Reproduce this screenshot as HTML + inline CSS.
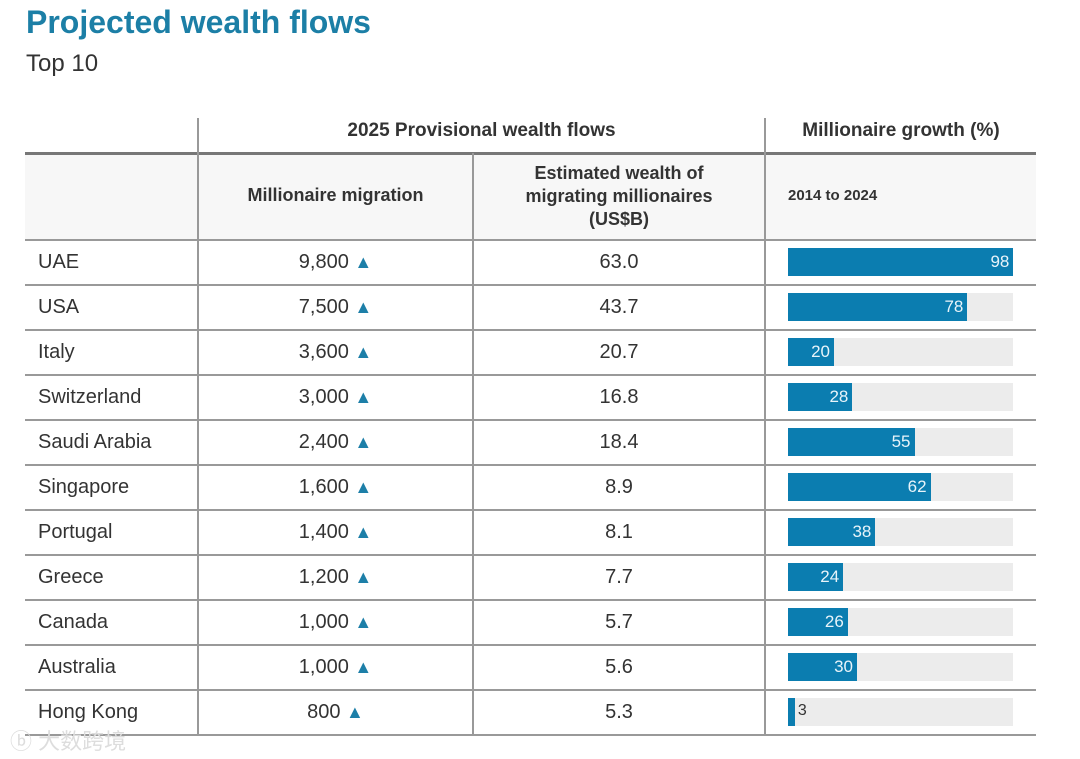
<!DOCTYPE html>
<html><head><meta charset="utf-8"><style>
body{margin:0;width:1080px;height:759px;background:#fff;font-family:"Liberation Sans","Noto Sans CJK SC",sans-serif;position:relative;overflow:hidden;color:#333}
.abs{position:absolute}
.t{left:26px;top:4px;font-size:32px;font-weight:bold;color:#1c7fa6}
.st{left:26px;top:50px;font-size:24px;color:#333}
.hl{background:#888;height:2px;left:25px;width:1011px}
.vl{background:#999;width:2px}
.c{text-align:center}
.hd{font-weight:bold;font-size:18px;color:#333}
.lbl{left:38px;font-size:20px;color:#333}
.num{font-size:20px;color:#333}
.tri{color:#1d7fa8;font-size:18px}
.bar{background:#0b7db0;color:#e8f4fa;font-size:17px;text-align:right;box-sizing:border-box;padding-right:4px;line-height:28px}
.trk{background:#ececec}
</style></head><body>
<div class="abs t">Projected wealth flows</div>
<div class="abs st">Top 10</div>
<div class="abs" style="left:25px;top:153px;width:1011px;height:86px;background:#f7f7f7"></div>
<div class="abs hd c" style="left:199px;width:565px;top:120px;font-size:19px">2025 Provisional wealth flows</div>
<div class="abs hd c" style="left:766px;width:270px;top:120px;font-size:19px">Millionaire growth (%)</div>
<div class="abs hd c" style="left:199px;width:273px;top:185px">Millionaire migration</div>
<div class="abs hd c" style="left:474px;width:290px;top:162px;line-height:23px">Estimated wealth of<br>migrating millionaires<br>(US$B)</div>
<div class="abs hd" style="left:788px;top:187px;font-size:15px">2014 to 2024</div>
<div id="tbl"></div>
<div class="abs" style="left:10px;top:724px;font-size:22px;color:#ddd">ⓑ 大数跨境</div>
<script>
const countries=["UAE","USA","Italy","Switzerland","Saudi Arabia","Singapore","Portugal","Greece","Canada","Australia","Hong Kong"];
const migration=["9,800","7,500","3,600","3,000","2,400","1,600","1,400","1,200","1,000","1,000","800"];
const wealth=["63.0","43.7","20.7","16.8","18.4","8.9","8.1","7.7","5.7","5.6","5.3"];
const growth=[98,78,20,28,55,62,38,24,26,30,3];
const T=document.getElementById('tbl');
const rowTop=239,rowH=45,barX=788,scale=2.3;
function mk(cls,style,html){const d=document.createElement('div');d.className='abs '+cls;d.setAttribute('style',style);if(html!==undefined)d.innerHTML=html;T.appendChild(d);return d;}
let e;
e=mk('hl','top:152px;height:3px;background:#777');


e=mk('vl','left:197px;top:118px;height:617px');


e=mk('vl','left:472px;top:153px;height:582px');


e=mk('vl','left:764px;top:118px;height:617px');


countries.forEach((c,i)=>{
  const y=rowTop+i*rowH;
  e=mk('hl','top:'+y+'px;background:#999');
  
  
  e=mk('lbl','top:'+(y+12)+'px',c);
  
  
  e=mk('num c','left:199px;width:273px;top:'+(y+12)+'px',migration[i]+' <span class="tri">▲</span>');
  
  
  e=mk('num c','left:474px;width:290px;top:'+(y+12)+'px',wealth[i]);
  
  
  e=mk('trk','left:'+barX+'px;top:'+(y+9)+'px;width:'+(100*scale-5)+'px;height:28px');
  
  
  const w=growth[i]*scale;
  if(growth[i]<10){
    e=mk('bar','left:'+barX+'px;top:'+(y+9)+'px;width:'+w+'px;height:28px;padding:0');
    
    
    e=mk('','left:'+(barX+w+3)+'px;top:'+(y+13)+'px;font-size:16px;color:#333',growth[i]);
    
    
  }else{
    e=mk('bar','left:'+barX+'px;top:'+(y+9)+'px;width:'+w+'px;height:28px',growth[i]);
    
    
  }
});
e=mk('hl','top:'+(rowTop+countries.length*rowH)+'px;background:#999');


</script>
</body></html>
